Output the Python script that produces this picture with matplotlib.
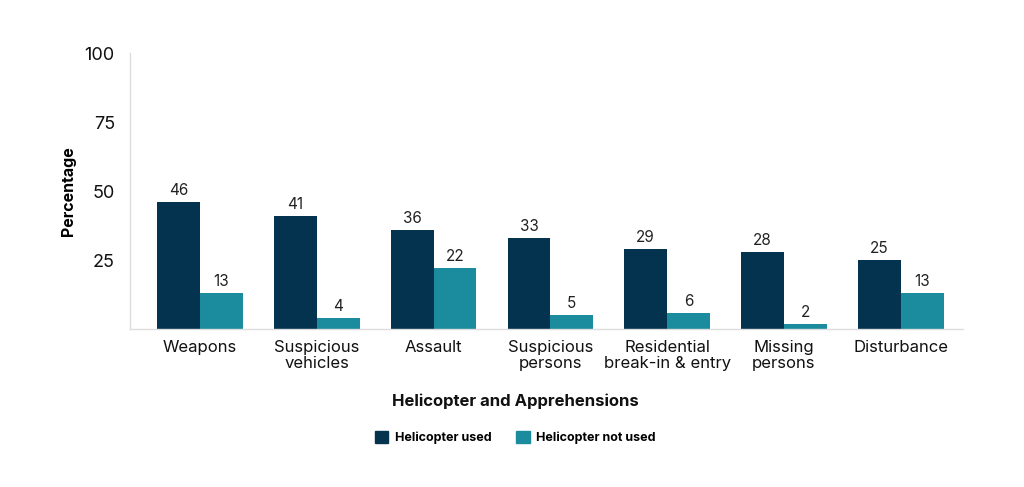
import numpy as np
from matplotlib import pyplot as plt
from matplotlib.patches import Patch

# Data
categories = [
    "Weapons",
    "Suspicious\nvehicles",
    "Assault",
    "Suspicious\npersons",
    "Residential\nbreak-in & entry",
    "Missing\npersons",
    "Disturbance",
]
helicopter_used = [46, 41, 36, 33, 29, 28, 25]
helicopter_not_used = [13, 4, 22, 5, 6, 2, 13]
y_ticks = [25, 50, 75, 100]

DARK = "#03334F"
TEAL = "#1A8C9D"

plt.rcParams["font.family"] = ["Inter", "DejaVu Sans"]

fig = plt.figure(figsize=(10.24, 4.87), dpi=100)
ax = fig.add_axes([0.127, 0.324, 0.813, 0.567])

x = np.arange(len(categories))
w = 0.367
b1 = ax.bar(x - w / 2, helicopter_used, w, color=DARK)
b2 = ax.bar(x + w / 2, helicopter_not_used, w, color=TEAL)

for bars in (b1, b2):
    for rect in bars:
        h = rect.get_height()
        ax.text(rect.get_x() + rect.get_width() / 2, h + 1.5, f"{h:g}",
                ha="center", va="bottom", fontsize=11, color="#222222")

ax.set_xlim(-0.6, 6.53)
ax.set_ylim(0, 100)
ax.set_yticks(y_ticks)
ax.set_yticklabels([str(t) for t in y_ticks], fontsize=13, color="#111111")
ax.set_xticks(x)
ax.set_xticklabels(categories, fontsize=12, color="#111111", linespacing=1.05)
ax.tick_params(axis="both", length=0)
ax.tick_params(axis="y", pad=11)
ax.tick_params(axis="x", pad=8)

for side in ("top", "right"):
    ax.spines[side].set_visible(False)
for side in ("left", "bottom"):
    ax.spines[side].set_color("#dddddd")
    ax.spines[side].set_linewidth(1)

ax.set_ylabel("Percentage", fontsize=11.5, fontweight="bold")
ax.yaxis.set_label_coords(-0.065, 0.5)

fig.text(0.503, 0.176, "Helicopter and Apprehensions", ha="center", va="center",
         fontsize=12, fontweight="bold", color="#111111")

handles = [Patch(color=DARK, label="Helicopter used"),
           Patch(color=TEAL, label="Helicopter not used")]
fig.legend(handles=handles, loc="center", bbox_to_anchor=(0.503, 0.102), ncol=2,
           frameon=False, prop={"size": 9, "weight": "bold"},
           handlelength=1.1, handleheight=1.1, columnspacing=2.0, handletextpad=0.5)

plt.savefig("out.png")
